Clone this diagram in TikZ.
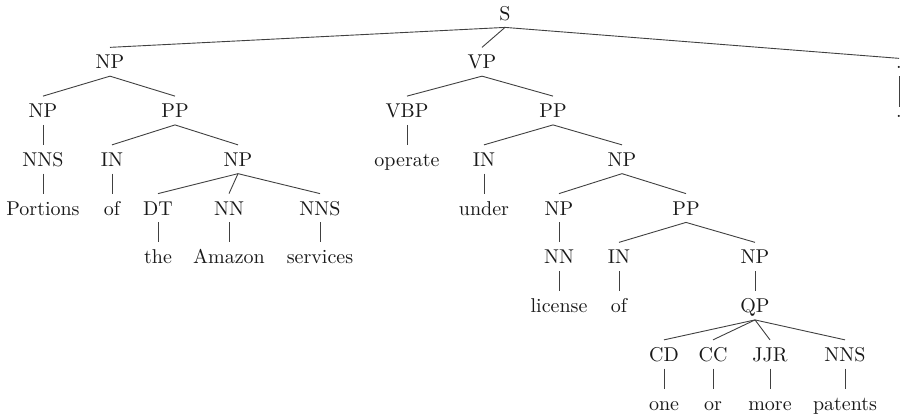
\documentclass[tikz,border=0pt]{standalone}
\begin{document}
\begin{tikzpicture}[x=0.5pt,y=-0.5pt,
  lab/.style={anchor=base,text height=9pt,text depth=2pt,inner xsep=1pt,inner ysep=1.5pt,text=black!90},
  dotlab/.style={anchor=base,text height=3.5pt,text depth=2pt,inner xsep=1pt,inner ysep=1.5pt,text=black!90},
  edge/.style={draw=black!75,line width=0.45pt}]
\useasboundingbox (0,0) rectangle (908,419);
\def\L#1{20+48.75*#1}
% level 0
\node[lab] (s) at (505,{\L0}) {S};
% level 1
\node[lab] (np1) at (110,{\L1}) {NP};
\node[lab] (vp) at (482,{\L1}) {VP};
\node[dotlab] (dot1) at (899,{\L1}) {.};
% level 2
\node[lab] (np2) at (43,{\L2}) {NP};
\node[lab] (pp1) at (175,{\L2}) {PP};
\node[lab] (vbp) at (407,{\L2}) {VBP};
\node[lab] (pp2) at (553,{\L2}) {PP};
\node[dotlab] (dot2) at (899,{\L2}) {.};
% level 3
\node[lab] (nns1) at (43,{\L3}) {NNS};
\node[lab] (in1) at (112,{\L3}) {IN};
\node[lab] (np3) at (238,{\L3}) {NP};
\node[lab] (operate) at (407,{\L3}) {operate};
\node[lab] (in2) at (484,{\L3}) {IN};
\node[lab] (np4) at (622,{\L3}) {NP};
% level 4
\node[lab] (portions) at (43,{\L4}) {Portions};
\node[lab] (of1) at (112,{\L4}) {of};
\node[lab] (dt) at (158,{\L4}) {DT};
\node[lab] (nn1) at (229,{\L4}) {NN};
\node[lab] (nns2) at (320,{\L4}) {NNS};
\node[lab] (under) at (484,{\L4}) {under};
\node[lab] (np5) at (559,{\L4}) {NP};
\node[lab] (pp3) at (686,{\L4}) {PP};
% level 5
\node[lab] (the) at (158,{\L5}) {the};
\node[lab] (amazon) at (229,{\L5}) {Amazon};
\node[lab] (services) at (320,{\L5}) {services};
\node[lab] (nn2) at (559,{\L5}) {NN};
\node[lab] (in3) at (619,{\L5}) {IN};
\node[lab] (np6) at (755,{\L5}) {NP};
% level 6
\node[lab] (license) at (559,{\L6}) {license};
\node[lab] (of2) at (619,{\L6}) {of};
\node[lab] (qp) at (755,{\L6}) {QP};
% level 7
\node[lab] (cd) at (664,{\L7}) {CD};
\node[lab] (cc) at (713,{\L7}) {CC};
\node[lab] (jjr) at (770,{\L7}) {JJR};
\node[lab] (nns3) at (845,{\L7}) {NNS};
% level 8
\node[lab] (one) at (664,{\L8}) {one};
\node[lab] (or) at (713,{\L8}) {or};
\node[lab] (more) at (770,{\L8}) {more};
\node[lab] (patents) at (845,{\L8}) {patents};
% edges
\foreach \p/\c in {s/np1,s/vp,s/dot1,np1/np2,np1/pp1,vp/vbp,vp/pp2,dot1/dot2,
  np2/nns1,pp1/in1,pp1/np3,vbp/operate,pp2/in2,pp2/np4,
  nns1/portions,in1/of1,np3/dt,np3/nn1,np3/nns2,in2/under,np4/np5,np4/pp3,
  dt/the,nn1/amazon,nns2/services,np5/nn2,pp3/in3,pp3/np6,
  nn2/license,in3/of2,np6/qp,
  qp/cd,qp/cc,qp/jjr,qp/nns3,
  cd/one,cc/or,jjr/more,nns3/patents}
  \draw[edge] (\p.south) -- (\c.north);
\end{tikzpicture}
\end{document}
